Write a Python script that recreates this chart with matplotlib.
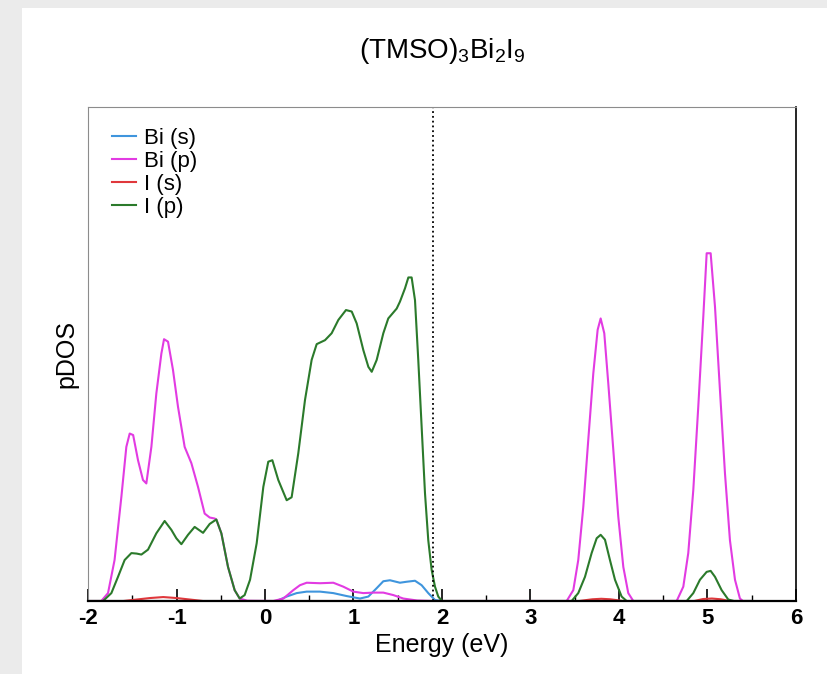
import matplotlib.pyplot as plt
from matplotlib.patches import Rectangle

plt.rcParams['font.family'] = ['Liberation Sans', 'DejaVu Sans']
plt.rcParams['mathtext.fontset'] = 'custom'
plt.rcParams['mathtext.rm'] = 'Liberation Sans'
plt.rcParams['mathtext.it'] = 'Liberation Sans'

# projected DOS, arbitrary units
e_bis = [-2.0, 0.131, 0.245, 0.358, 0.471, 0.621, 0.772, 0.923, 1.073, 1.168,
         1.262, 1.337, 1.412, 1.525, 1.601, 1.695, 1.77, 1.845, 1.921, 2.0, 5.5]
bi_s = [0, 0, 0.9, 1.6, 1.9, 1.9, 1.6, 1.0, 0.5, 0.9,
        2.6, 4.0, 4.2, 3.7, 3.9, 4.1, 3.2, 1.6, 0.2, 0, 0]

e_bip = [-2.0, -1.85, -1.774, -1.70, -1.623, -1.567, -1.529, -1.49, -1.435, -1.379,
         -1.341, -1.284, -1.228, -1.171, -1.141, -1.096, -1.04, -0.983, -0.908, -0.832,
         -0.757, -0.682, -0.625, -0.569, -0.55, -0.493, -0.418, -0.343, -0.286, -0.2,
         0.094, 0.207, 0.32, 0.395, 0.471, 0.622, 0.772, 0.885, 0.998, 1.111,
         1.224, 1.337, 1.45, 1.563, 1.72, 1.9, 3.409, 3.484, 3.54, 3.597,
         3.653, 3.71, 3.759, 3.793, 3.834, 3.879, 3.936, 3.992, 4.049, 4.105,
         4.162, 4.652, 4.727, 4.783, 4.84, 4.896, 4.953, 4.991, 5.036, 5.085,
         5.141, 5.198, 5.254, 5.311, 5.367, 5.4, 5.5]
bi_p = [0, 0, 1.6, 8.3, 21.1, 31.2, 33.9, 33.6, 28.5, 24.5,
        23.8, 31.2, 42.0, 50.1, 53.0, 52.5, 46.8, 39.3, 31.2, 27.9,
        23.1, 17.7, 16.9, 16.7, 16.5, 13.7, 6.9, 2.2, 0.5, 0.05,
        0, 0.5, 2.2, 3.2, 3.7, 3.6, 3.7, 2.9, 1.9, 1.6,
        1.7, 1.7, 1.2, 0.5, 0.1, 0, 0, 2.2, 8.3, 19.1,
        32.6, 46.1, 54.9, 57.2, 54.2, 44.1, 30.6, 17.1, 6.9, 1.6,
        0, 0, 2.9, 9.7, 22.5, 39.3, 57.6, 70.4, 70.4, 59.6,
        42.7, 25.8, 12.3, 4.3, 0.5, 0, 0]

e_is = [-2.0, -1.6, -1.45, -1.3, -1.15, -1.0, -0.85, -0.7, 3.55, 3.7,
        3.8, 3.9, 4.05, 4.85, 4.95, 5.05, 5.15, 5.25, 5.5]
i_s = [0, 0, 0.3, 0.6, 0.8, 0.6, 0.3, 0, 0, 0.35,
       0.45, 0.35, 0, 0, 0.4, 0.5, 0.35, 0, 0]

e_ip = [-2.0, -1.83, -1.736, -1.661, -1.586, -1.51, -1.45, -1.397, -1.322, -1.228,
        -1.134, -1.058, -1.002, -0.945, -0.87, -0.795, -0.70, -0.625, -0.55, -0.493,
        -0.418, -0.343, -0.286, -0.23, -0.169, -0.094, -0.019, 0.037, 0.083, 0.15,
        0.245, 0.301, 0.376, 0.452, 0.527, 0.584, 0.678, 0.753, 0.829, 0.915,
        0.98, 1.036, 1.111, 1.168, 1.206, 1.262, 1.337, 1.393, 1.488, 1.525,
        1.582, 1.62, 1.657, 1.695, 1.732, 1.77, 1.808, 1.845, 1.883, 1.921,
        1.958, 2.0, 3.465, 3.54, 3.616, 3.691, 3.748, 3.793, 3.842, 3.898,
        3.955, 4.03, 4.087, 4.765, 4.84, 4.915, 4.991, 5.036, 5.085, 5.16,
        5.235, 5.3, 5.5]
i_p = [0, 0, 1.6, 4.9, 8.3, 9.7, 9.6, 9.4, 10.4, 13.7,
       16.2, 14.4, 12.7, 11.5, 13.4, 15.0, 13.8, 15.6, 16.5, 13.7,
       6.9, 2.2, 0.5, 1.2, 4.3, 11.7, 23.1, 28.2, 28.5, 24.5,
       20.4, 21.0, 29.9, 40.7, 48.8, 52.0, 52.8, 54.2, 56.9, 58.9,
       58.6, 56.2, 50.8, 47.4, 46.4, 48.8, 54.2, 57.2, 59.2, 60.6,
       63.3, 65.5, 65.5, 60.9, 48.8, 35.3, 21.8, 12.3, 6.3, 2.9,
       0.9, 0, 0, 1.6, 4.9, 9.7, 12.7, 13.4, 12.4, 8.3,
       4.3, 0.9, 0, 0, 1.6, 4.3, 5.9, 6.1, 4.9, 2.2,
       0.3, 0, 0]

e_fermi = 1.9
xticks = [-2, -1, 0, 1, 2, 3, 4, 5, 6]

fig = plt.figure(figsize=(8.28, 6.74), dpi=100, facecolor='#ebebeb')
fig.add_artist(Rectangle((22 / 828, 0), 1, 1 - 8 / 674, transform=fig.transFigure,
                         facecolor='white', edgecolor='none', zorder=-10))
ax = fig.add_axes([0.1063, 0.1083, 0.855, 0.7329])

line_kw = dict(lw=1.5, solid_joinstyle='round')
ax.plot(e_bis, bi_s, color='#3f95dd', label='Bi (s)', **line_kw)
ax.plot(e_bip, bi_p, color='#e23be2', label='Bi (p)', **line_kw)
ax.plot(e_is, i_s, color='#e0383c', label='I (s)', **line_kw)
ax.plot(e_ip, i_p, color='#2b7a2b', label='I (p)', **line_kw)
ax.axvline(e_fermi, color='black', ls=':', lw=1.3)

ax.set_xlim(-2, 6)
ax.set_ylim(0, 100)
ax.set_xticks(xticks)
ax.set_xticklabels([str(t) for t in xticks], fontsize=16, fontweight='bold')
ax.set_xticks([t + 0.5 for t in xticks[:-1]], minor=True)
ax.set_yticks([])
ax.tick_params(axis='x', which='major', direction='in', length=9, width=1.2, pad=5)
ax.tick_params(axis='x', which='minor', direction='in', length=4.5, width=1)

for side in ['left', 'top']:
    ax.spines[side].set_color('#8c8c8c')
ax.spines['bottom'].set_linewidth(1.6)
ax.spines['right'].set_linewidth(1.2)

ax.set_xlabel('Energy (eV)', fontsize=18, labelpad=3)
ax.set_ylabel('pDOS', fontsize=18, labelpad=7)
ax.set_title(r'(TMSO)$_3$Bi$_2$I$_9$', fontsize=20, pad=35)

ax.legend(loc='upper left', bbox_to_anchor=(0.022, 0.975), frameon=False,
          fontsize=16, handlelength=1.05, handletextpad=0.35, labelspacing=0.08,
          borderaxespad=0)

fig.savefig('out.png', dpi=100, facecolor=fig.get_facecolor())
